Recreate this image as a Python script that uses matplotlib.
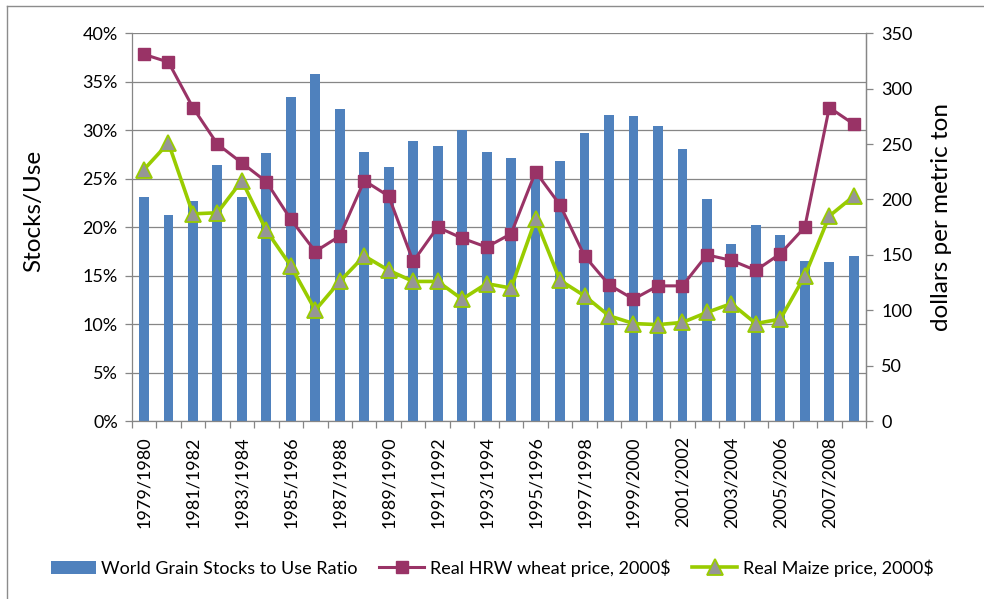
import matplotlib
matplotlib.use("Agg")
import matplotlib.pyplot as plt
from matplotlib.lines import Line2D
from matplotlib.patches import Patch
from matplotlib.ticker import FixedLocator, FuncFormatter

plt.rcParams['font.family'] = ['Lato', 'DejaVu Sans']

seasons = [f"{y}/{y+1}" for y in range(1979, 2009)]

stocks_to_use = [23.1, 21.3, 22.7, 26.4, 23.1, 27.6, 33.4, 35.8, 32.2, 27.8,
                 26.2, 28.9, 28.4, 30.0, 27.8, 27.1, 25.5, 26.8, 29.7, 31.6,
                 31.5, 30.4, 28.1, 22.9, 18.3, 20.2, 19.2, 16.5, 16.4, 17.0]

wheat_price = [331, 324, 283, 250, 233, 216, 182, 153, 167, 217,
               203, 144, 175, 165, 157, 169, 225, 195, 149, 123,
               110, 122, 122, 150, 145, 136, 151, 175, 283, 268]

maize_price = [227, 251, 187, 188, 217, 172, 140, 100, 126, 149,
               136, 126, 126, 110, 124, 120, 182, 127, 113, 95,
               88, 87, 89, 98, 106, 88, 92, 131, 185, 203]

W, H = 984, 599
fig = plt.figure(figsize=(W / 100, H / 100), dpi=100)

L, R, T, B = 131.7, 866, 33.3, 421
ax = fig.add_axes([L / W, 1 - B / H, (R - L) / W, (B - T) / H])

grid_c = '#868686'
x = list(range(len(seasons)))
ax.bar(x, stocks_to_use, width=0.4, color='#4F81BD', zorder=2)
ax.set_xlim(-0.5, len(seasons) - 0.5)
ax.set_ylim(0, 40)
ax.set_yticks(range(0, 41, 5))
ax.yaxis.set_major_formatter(FuncFormatter(lambda v, p: f"{int(v)}%"))
ax.grid(axis='y', color=grid_c, linewidth=0.9, zorder=0)
ax.set_axisbelow(True)

ax.set_xticks(x[::2])
ax.set_xticklabels(seasons[::2], rotation=90)
ax.xaxis.set_minor_locator(FixedLocator([i - 0.5 for i in range(len(seasons) + 1)]))
ax.tick_params(axis='x', which='major', length=0, pad=11, labelsize=13)
ax.tick_params(axis='x', which='minor', length=5, color=grid_c, width=0.9)
ax.tick_params(axis='y', length=5, color=grid_c, width=0.9, pad=5, labelsize=13)

ax.spines['top'].set_visible(False)
for s in ['left', 'bottom', 'right']:
    ax.spines[s].set_color(grid_c)
    ax.spines[s].set_linewidth(0.9)

ax2 = ax.twinx()
ax2.set_ylim(0, 350)
ax2.set_yticks(range(0, 351, 50))
ax2.tick_params(axis='y', length=5, color=grid_c, width=0.9, pad=6, labelsize=13)
for s in ['top', 'left', 'bottom']:
    ax2.spines[s].set_visible(False)
ax2.spines['right'].set_color(grid_c)
ax2.spines['right'].set_linewidth(0.9)

l1, = ax2.plot(x, wheat_price, color='#993366', linewidth=2.2, marker='s',
               markersize=9, markerfacecolor='#993366', markeredgecolor='#993366',
               zorder=4, label='Real HRW wheat price, 2000$')
l2, = ax2.plot(x, maize_price, color='#99CC00', linewidth=2.6, marker='^',
               markersize=11, markerfacecolor='#969696', markeredgecolor='#99CC00',
               markeredgewidth=1.3, zorder=3, label='Real Maize price, 2000$')

fig.text(34 / W, 1 - 211 / H, 'Stocks/Use', rotation=90, ha='center', va='center', fontsize=17.5)
fig.text(942 / W, 1 - 217 / H, 'dollars per metric ton', rotation=90, ha='center', va='center', fontsize=17.5)

handles = [Patch(facecolor='#4F81BD', edgecolor='none', label='World Grain Stocks to Use Ratio'), l1, l2]
fig.legend(handles=handles, loc='center', bbox_to_anchor=(492 / W, 1 - 568 / H), ncol=3,
           frameon=False, fontsize=13, handlelength=2.5, handletextpad=0.3,
           columnspacing=1.2)

bc = '#8c8c8c'
fig.add_artist(Line2D([7 / W, 1], [1 - 6 / H, 1 - 6 / H], color=bc, linewidth=1))
fig.add_artist(Line2D([7 / W, 7 / W], [0, 1 - 6 / H], color=bc, linewidth=1))

fig.savefig('out.png', dpi=100)
